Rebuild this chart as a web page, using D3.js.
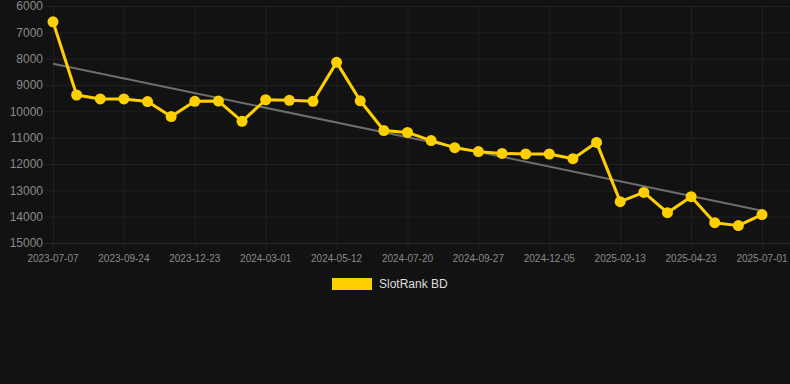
<!DOCTYPE html>
<html>
<head>
<meta charset="utf-8">
<script src="https://cdn.jsdelivr.net/npm/d3@7"></script>
<style>
  html, body { margin: 0; padding: 0; background: #121212; }
  svg { display: block; }
</style>
</head>
<body>
<svg id="chart" width="790" height="384"></svg>
<script>
const dates = [
  "2023-07-07","2023-07-31","2023-08-28","2023-09-24","2023-10-24","2023-11-23",
  "2023-12-23","2024-01-15","2024-02-07","2024-03-01","2024-03-25","2024-04-18",
  "2024-05-12","2024-06-04","2024-06-27","2024-07-20","2024-08-12","2024-09-04",
  "2024-09-27","2024-10-20","2024-11-12","2024-12-05","2024-12-28","2025-01-21",
  "2025-02-13","2025-03-08","2025-03-31","2025-04-23","2025-05-16","2025-06-08",
  "2025-07-01"
];
const ranks = [
  6600, 9380, 9530, 9530, 9630, 10200,
  9620, 9610, 10380, 9560, 9580, 9620,
  8140, 9600, 10730, 10800, 11110, 11380,
  11530, 11600, 11620, 11620, 11800, 11180,
  13430, 13080, 13850, 13240, 14230, 14340,
  13920
];
const yTicks = [6000, 7000, 8000, 9000, 10000, 11000, 12000, 13000, 14000, 15000];
const seriesName = "SlotRank BD";

const svg = d3.select("#chart");
const plotLeft = 53, plotRight = 762, plotTop = 6, plotBottom = 243;

const x = d3.scalePoint().domain(dates).range([plotLeft, plotRight]);
const y = d3.scaleLinear().domain([6000, 15000]).range([plotTop, plotBottom]);

const gridColor = "#202020";
const labelColor = "#8a8a8a";

// horizontal grid
svg.append("g").selectAll("line").data(yTicks).join("line")
  .attr("x1", 45).attr("x2", 790)
  .attr("y1", d => y(d) + 0.5).attr("y2", d => y(d) + 0.5)
  .attr("stroke", d => d === 15000 ? "#2a2a2a" : gridColor).attr("stroke-width", 1);

// vertical grid at labelled ticks
const labelled = dates.filter((d, i) => i % 3 === 0);
svg.append("g").selectAll("line").data(labelled).join("line")
  .attr("x1", d => x(d) + 0.5).attr("x2", d => x(d) + 0.5)
  .attr("y1", plotTop).attr("y2", plotBottom + 6)
  .attr("stroke", gridColor).attr("stroke-width", 1);

// y labels
svg.append("g").selectAll("text").data(yTicks).join("text")
  .attr("x", 43).attr("y", d => y(d))
  .attr("dy", "0.35em")
  .attr("text-anchor", "end")
  .attr("font-family", "Liberation Sans, Arial, sans-serif")
  .attr("font-size", 12)
  .attr("fill", labelColor)
  .text(d => d);

// x labels
svg.append("g").selectAll("text").data(labelled).join("text")
  .attr("x", d => x(d)).attr("y", 262)
  .attr("text-anchor", "middle")
  .attr("font-family", "Liberation Sans, Arial, sans-serif")
  .attr("font-size", 10)
  .attr("fill", labelColor)
  .text(d => d);

// trend line (least squares)
const n = ranks.length;
const mx = d3.mean(ranks, (d, i) => i);
const my = d3.mean(ranks);
let num = 0, den = 0;
ranks.forEach((v, i) => { num += (i - mx) * (v - my); den += (i - mx) * (i - mx); });
const slope = num / den, intercept = my - slope * mx;
const trend = [0, n - 1].map(i => ({ d: dates[i], v: intercept + slope * i }));
svg.append("path")
  .datum(trend)
  .attr("d", d3.line().x(d => x(d.d)).y(d => y(d.v)))
  .attr("fill", "none")
  .attr("stroke", "#6e6e6e")
  .attr("stroke-width", 2);

// series line
const color = "#FFD000";
const data = dates.map((d, i) => ({ d, v: ranks[i] }));
svg.append("path")
  .datum(data)
  .attr("d", d3.line().x(d => x(d.d)).y(d => y(d.v)))
  .attr("fill", "none")
  .attr("stroke", color)
  .attr("stroke-width", 3)
  .attr("stroke-linejoin", "round");

svg.append("g").selectAll("circle").data(data).join("circle")
  .attr("cx", d => x(d.d)).attr("cy", d => y(d.v))
  .attr("r", 5.5)
  .attr("fill", color);

// legend
svg.append("rect")
  .attr("x", 332).attr("y", 278).attr("width", 40).attr("height", 12)
  .attr("fill", color);
svg.append("text")
  .attr("x", 379).attr("y", 284)
  .attr("dy", "0.35em")
  .attr("font-family", "Liberation Sans, Arial, sans-serif")
  .attr("font-size", 12)
  .attr("fill", "#dddddd")
  .text(seriesName);
</script>
</body>
</html>
